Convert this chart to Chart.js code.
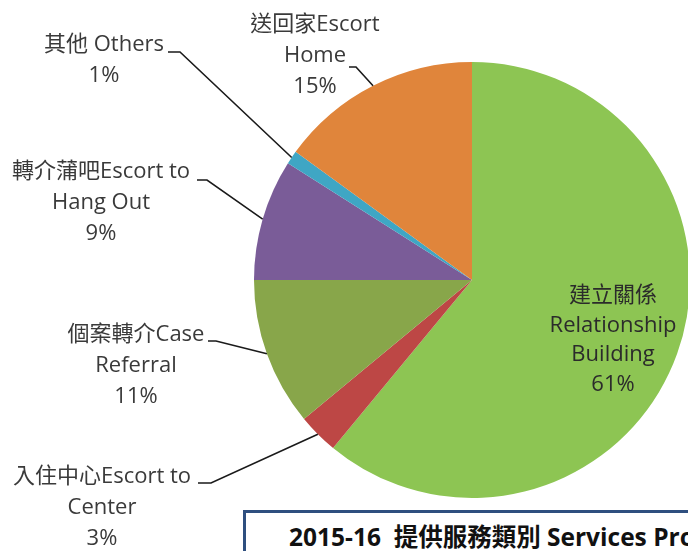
<!DOCTYPE html>
<html>
<head>
<meta charset="utf-8">
<script src="https://cdn.jsdelivr.net/npm/chart.js"></script>
<style>
  html, body { margin: 0; padding: 0; background: #fff; }
  #wrap { position: relative; width: 688px; height: 551px; overflow: hidden; }
  #chart { position: absolute; left: 0; top: 0; }
  #titleBox {
    position: absolute; left: 243px; top: 510px; width: 600px; height: 80px;
    box-sizing: border-box; border: 3px solid #2f4f7f; background: #fff;
    padding: 5px 0 0 43px; white-space: pre;
    font: bold 24.5px 'Open Sans', 'Noto Sans CJK TC', sans-serif; color: #111;
  }
</style>
</head>
<body>
<div id="wrap">
  <canvas id="chart" width="760" height="551"></canvas>
  <div id="titleBox">2015-16  提供服務類別 Services Provided</div>
</div>
<script>
// slices, clockwise from 12 o'clock
const labelLines = [
  ['建立關係', 'Relationship', 'Building'],
  ['入住中心Escort to', 'Center'],
  ['個案轉介Case', 'Referral'],
  ['轉介蒲吧Escort to', 'Hang Out'],
  ['其他 Others'],
  ['送回家Escort', 'Home']
];
const values = [61, 3, 11, 9, 1, 15];
const colors = ['#8dc553', '#bd4745', '#88a64a', '#7a5c98', '#3fa6c4', '#e0853b'];

// where each label sits and where its leader line starts
const labelPos = [
  { x: 613, y: 296, inside: true },
  { x: 102, y: 477, lx: 198, ly: 483, ex: 211 },
  { x: 136, y: 335, lx: 208, ly: 341, ex: 216 },
  { x: 101, y: 172, lx: 197, ly: 180, ex: 207 },
  { x: 104, y: 45, lx: 168, ly: 52, ex: 180 },
  { x: 315, y: 25, lx: 349, ly: 67, ex: 356 }
];

const pieLabels = {
  id: 'pieLabels',
  afterDraw(chart) {
    const ctx = chart.ctx;
    const arcs = chart.getDatasetMeta(0).data;
    ctx.save();
    ctx.font = "22px 'Open Sans', 'Noto Sans CJK TC', sans-serif";
    ctx.textAlign = 'center';
    ctx.textBaseline = 'middle';
    arcs.forEach((arc, i) => {
      const p = labelPos[i];
      const lines = labelLines[i].concat([values[i] + '%']);
      ctx.fillStyle = p.inside ? '#2b2b2b' : '#3a3a3a';
      const lh = p.inside ? 29.5 : 31;
      lines.forEach((t, k) => ctx.fillText(t, p.x, p.y + k * lh));
      if (!p.inside) {
        const a = arc.getProps(['x', 'y', 'startAngle', 'endAngle', 'outerRadius'], true);
        const mid = (a.startAngle + a.endAngle) / 2;
        const px = a.x + Math.cos(mid) * a.outerRadius;
        const py = a.y + Math.sin(mid) * a.outerRadius;
        ctx.strokeStyle = '#1a1a1a';
        ctx.lineWidth = 1.6;
        ctx.beginPath();
        ctx.moveTo(p.lx, p.ly);
        ctx.lineTo(p.ex, p.ly);
        ctx.lineTo(px, py);
        ctx.stroke();
      }
    });
    ctx.restore();
  }
};

new Chart(document.getElementById('chart'), {
  type: 'pie',
  data: {
    labels: labelLines.map(l => l.join(' ')),
    datasets: [{
      data: values,
      backgroundColor: colors,
      borderWidth: 0
    }]
  },
  options: {
    responsive: false,
    animation: false,
    layout: { padding: { left: 254, right: 70, top: 62, bottom: 53 } },
    plugins: {
      legend: { display: false },
      tooltip: { enabled: false }
    }
  },
  plugins: [pieLabels]
});
</script>
</body>
</html>
